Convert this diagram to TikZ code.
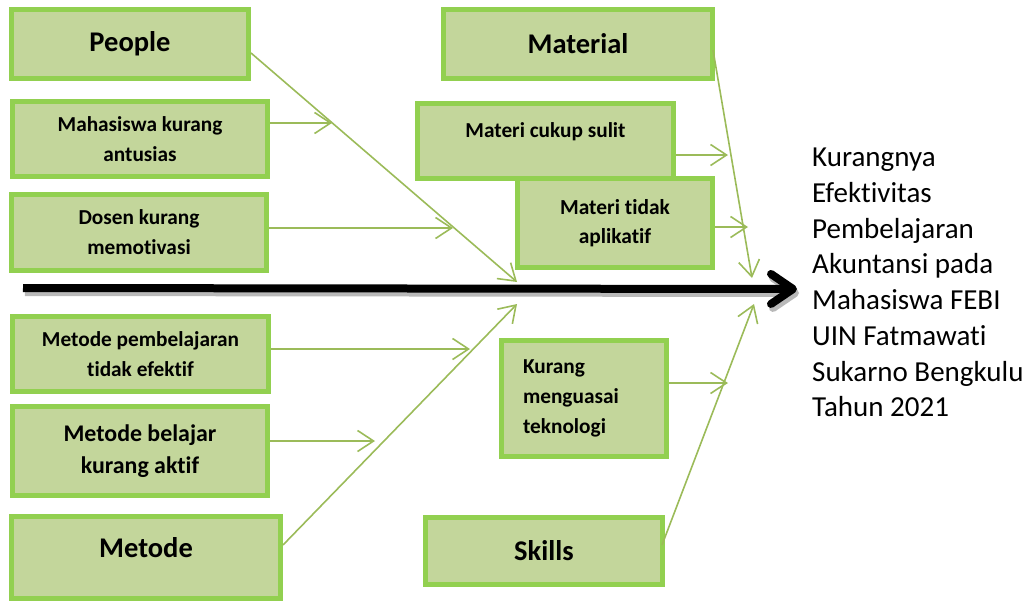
\documentclass[tikz,border=0pt]{standalone}
\usepackage{fontspec}
\setmainfont{Carlito}[Ligatures={NoCommon,NoContextual}]
\usetikzlibrary{arrows.meta}

\definecolor{boxline}{HTML}{92D050}
\definecolor{boxfill}{HTML}{C3D69B}
\definecolor{bonegreen}{HTML}{9BBB59}

\begin{document}
\begin{tikzpicture}[x=1pt, y=-1pt,
    cause/.style={draw=boxline, fill=boxfill, line width=5pt, inner sep=0pt, align=center,
      font=\bfseries\fontsize{21.3}{30}\selectfont},
    head/.style={cause, font=\bfseries\fontsize{28.5}{34}\selectfont},
    bone/.style={draw=bonegreen, line width=1.6pt, >={Straight Barb[length=16pt,width=21pt]}},
    spine/.style={line width=8pt, >={Straight Barb[length=22pt,width=30pt,round]}}]

    \useasboundingbox (0,0) rectangle (1035,602);

    \coordinate (T) at (23,288);
    \coordinate (H) at (797,289);
    \draw [->, spine, gray!55, transform canvas={xshift=2pt,yshift=-4pt}] (T)--(H);
    \draw [->, spine, black] (T)--(H);

    \node[head, minimum width=237pt, minimum height=69pt] (P) at (130,44) {People};
    \node[cause, minimum width=255pt, minimum height=75pt] (MK) at (140,139) {Mahasiswa kurang\\antusias};
    \node[cause, minimum width=255pt, minimum height=76pt] (DK) at (139,232) {Dosen kurang\\memotivasi};

    \node[cause, minimum width=256pt, minimum height=75pt] (MP) at (140.5,354) {Metode pembelajaran\\tidak efektif};
    \node[cause, minimum width=255pt, minimum height=89pt, font=\bfseries\fontsize{23.9}{32}\selectfont] (MB) at (140,451) {Metode belajar\\kurang aktif};
    \node[head, minimum width=269pt, minimum height=82pt] (M) at (146,557.5) {\raisebox{20pt}{Metode}};

    \node[head, minimum width=269pt, minimum height=69pt] (MT) at (578,44) {Material};
    \node[cause, minimum width=256pt, minimum height=75pt] (MS) at (545.5,141) {\raisebox{22pt}{Materi cukup sulit}};
    \node[cause, minimum width=195pt, minimum height=89pt, font=\bfseries\fontsize{21.4}{29}\selectfont] (MA) at (615,223) {Materi tidak\\aplikatif};

    \node[cause, minimum width=165pt, minimum height=116pt, align=left, text width=122pt] (KT) at (584,398) {Kurang\\menguasai\\teknologi};
    \node[head, minimum width=237pt, minimum height=67pt] (S) at (544,551) {Skills};

    \node[anchor=north west, inner sep=0pt, align=left, font=\fontsize{29}{35.7}\selectfont] (E) at (812,148)
      {Kurangnya\\Efektivitas\\Pembelajaran\\Akuntansi pada\\Mahasiswa FEBI\\UIN Fatmawati\\Sukarno Bengkulu\\Tahun 2021};

    \coordinate (pT) at (517,282);
    \coordinate (mkT) at (332,123);
    \coordinate (dkT) at (453,228);
    \coordinate (mpT) at (470,349);
    \coordinate (mbT) at (375,441);
    \coordinate (mT) at (517,304);
    \coordinate (mtT) at (752,278);
    \coordinate (msT) at (728,155);
    \coordinate (maT) at (748,227);
    \coordinate (ktT) at (728,383);
    \coordinate (sT) at (754,304);

    \draw [->, bone] ([yshift=-9pt]P.east)--(pT);
    \draw [->, bone] ([yshift=16pt]MK.east)--(mkT);
    \draw [->, bone] ([yshift=4pt]DK.east)--(dkT);
    \draw [->, bone] ([yshift=5pt]MP.east)--(mpT);
    \draw [->, bone] ([yshift=10pt]MB.east)--(mbT);
    \draw [->, bone] ([yshift=12.5pt]M.east)--(mT);

    \draw [->, bone] ([xshift=-2pt,yshift=-6pt]MT.east)--(mtT);
    \draw [->, bone] ([yshift=-14pt]MS.east)--(msT);
    \draw [->, bone] ([yshift=-4pt]MA.east)--(maT);
    \draw [->, bone] ([yshift=15pt]KT.east)--(ktT);
    \draw [->, bone] ([xshift=-3pt,yshift=6pt]S.east)--(sT);

\end{tikzpicture}
\end{document}
